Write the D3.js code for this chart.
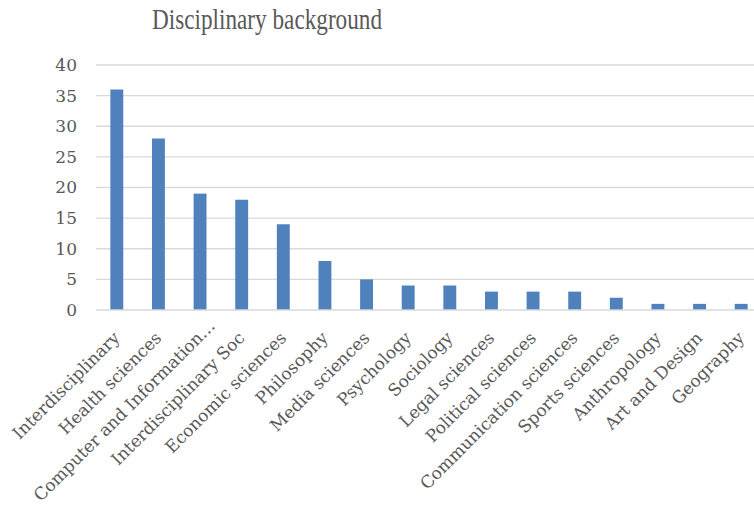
<!DOCTYPE html>
<html><head><meta charset="utf-8">
<script src="https://cdn.jsdelivr.net/npm/d3@7"></script>
<style>body{margin:0;background:#fff;} svg{display:block;}</style>
</head><body>
<svg id="c" width="754" height="507"></svg>
<script>
const categories = ["Interdisciplinary","Health sciences","Computer and Information…","Interdisciplinary Soc","Economic sciences","Philosophy","Media sciences","Psychology","Sociology","Legal sciences","Political sciences","Communication sciences","Sports sciences","Anthropology","Art and Design","Geography"];
const values = [36,28,19,18,14,8,5,4,4,3,3,3,2,1,1,1];
const yTicks = [0,5,10,15,20,25,30,35,40];
const title = "Disciplinary background";

const svg = d3.select("#c");
const font = "'DejaVu Serif', 'Liberation Serif', serif";
const x = d3.scaleBand().domain(categories).range([96, 762]).paddingInner(0.69).paddingOuter(0.345);
const y = d3.scaleLinear().domain([0,40]).range([310, 65]);

svg.append("g").selectAll("line").data(yTicks.filter(d=>d>0)).join("line")
  .attr("x1",96).attr("x2",754).attr("y1",d=>y(d)).attr("y2",d=>y(d))
  .attr("stroke","#d9d9d9").attr("stroke-width",1.3);

svg.append("g").selectAll("rect").data(values).join("rect")
  .attr("x",(d,i)=>x(categories[i])).attr("width",x.bandwidth())
  .attr("y",d=>y(d)).attr("height",d=>y(0)-y(d)).attr("fill","#4f81bd");

svg.append("line").attr("x1",96).attr("x2",754).attr("y1",y(0)).attr("y2",y(0))
  .attr("stroke","#d9d9d9").attr("stroke-width",1.6);

const ya = d3.axisLeft(y).tickValues(yTicks).tickSize(0).tickPadding(0);
const gy = svg.append("g").attr("transform","translate(77,0)").call(ya);
gy.select(".domain").remove();
gy.selectAll("text").attr("font-family",font).attr("font-size",17).attr("fill","#595959");

const xa = d3.axisBottom(x).tickSize(0).tickPadding(0);
const gx = svg.append("g").attr("transform",`translate(0,${y(0)})`).call(xa);
gx.select(".domain").remove();
gx.selectAll("text").attr("font-family",font).attr("font-size",17).attr("fill","#595959")
  .attr("text-anchor","end").attr("dy",0)
  .attr("dx",d=>d.endsWith("…")?17:0)
  .attr("transform","translate(4,29) rotate(-45)");

svg.append("text").attr("x",267).attr("y",29).attr("text-anchor","middle")
  .attr("font-family","'Liberation Serif', serif").attr("font-size",30).attr("fill","#595959")
  .attr("textLength",230).attr("lengthAdjust","spacingAndGlyphs").text(title);
</script>
</body></html>
